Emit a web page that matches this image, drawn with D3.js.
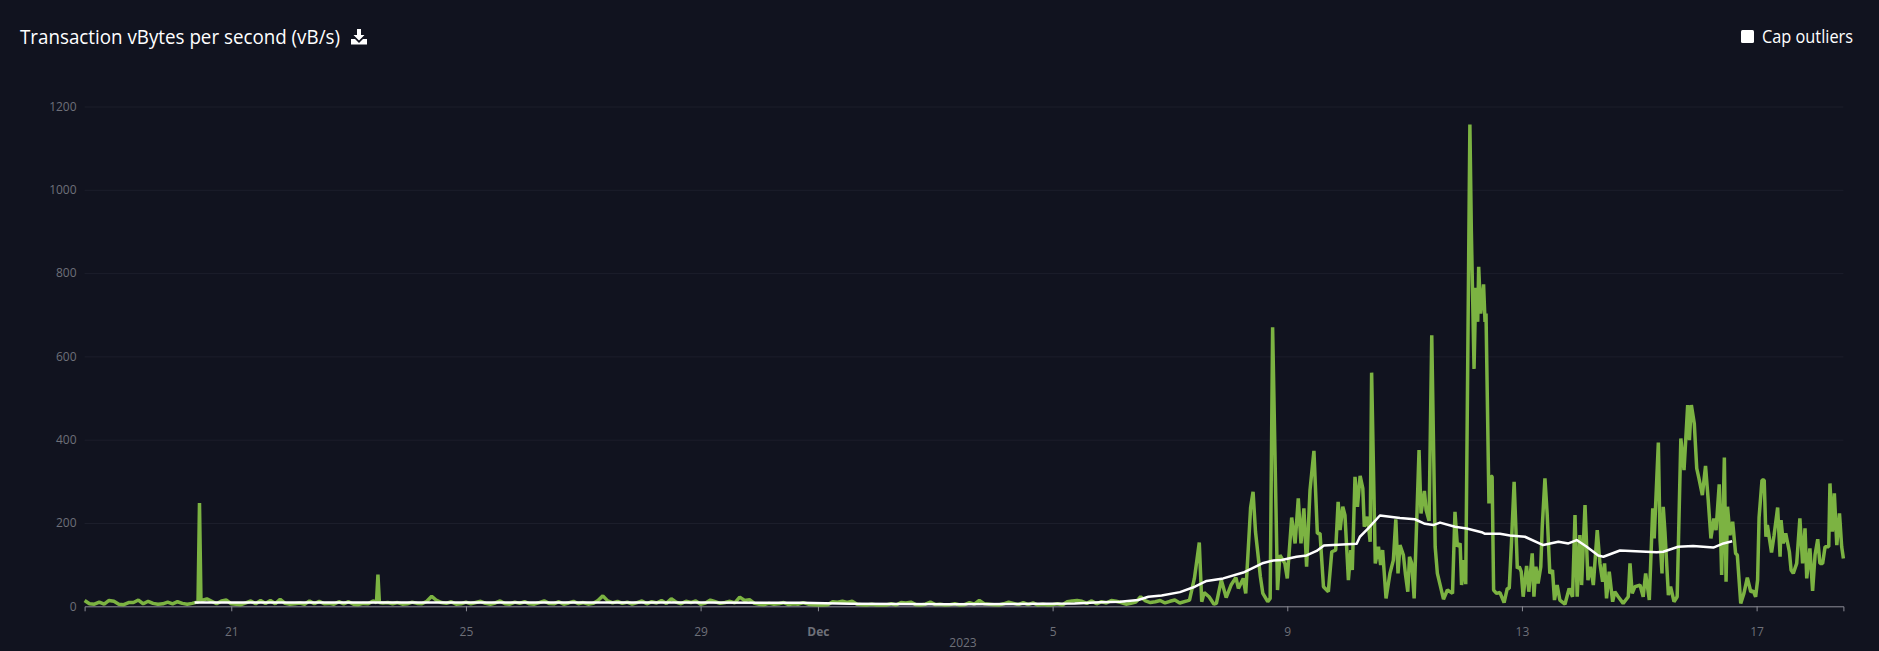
<!DOCTYPE html>
<html>
<head>
<meta charset="utf-8">
<script src="https://cdn.jsdelivr.net/npm/d3@7"></script>
<style>
	html, body { margin: 0; padding: 0; background: #11131f; overflow: hidden; }
	svg { display: block; }
	text { font-family: "Open Sans", "Noto Sans", sans-serif; }
</style>
</head>
<body>
<svg id="svg"></svg>
<script>
var width = 1879, height = 651;
var margin = {top: 106.5, bottom: 606.3, right: 1843.4, left: 84.6};

var yTicks = [0, 200, 400, 600, 800, 1000, 1200];
var tickDates = [[10, 21], [10, 25], [10, 29], [11, 1], [11, 5], [11, 9], [11, 13], [11, 17]];
var tickLabels = ["21", "25", "29", "Dec", "5", "9", "13", "17"];

// two-hourly readings from Nov 18 12:00 to Dec 7 02:00, one row a day
var quietValues = [
	14,6,5,10,5,14,12,5,4,9,9,15,
	6,12,7,5,6,10,6,11,7,5,7,10,
	14,18,12,6,13,15,6,5,4,8,13,6,
	14,7,14,6,17,7,5,6,8,5,13,6,
	12,6,7,5,11,6,11,5,4,7,6,13,
	76,8,9,6,9,5,6,10,7,6,12,24,
	14,9,7,11,5,6,10,6,9,12,7,5,
	8,13,6,5,10,7,11,6,5,9,13,7,
	6,11,5,8,12,6,9,5,7,14,25,13,
	8,12,7,10,5,9,13,6,11,8,14,7,
	18,10,6,12,9,13,5,8,15,11,7,9,
	12,8,22,14,16,7,5,4,7,5,6,9,
	4,6,5,9,5,4,3,3,4,11,10,12,
	9,12,5,4,3,5,3,4,3,6,3,9,
	8,10,4,3,5,10,4,5,3,4,6,3,
	4,9,5,14,6,5,4,3,6,10,7,4,
	9,4,8,3,5,3,4,6,3,11,13,14,
	12,7,13,6,11,8,14,12,9,5,7,10,
	23,13,9,11,14,8,12,15
];
// spikes are narrower than the two hour spacing, so they get extra readings
var spikeHours = [46.4, 47, 47.6, 119.4, 120.6];
var spikeValues = [10, 248, 14, 9, 9];

// after Dec 7 the line is read peak by peak. hours are counted from Dec 9 00:00
var busyHours = [
	-44,-41,-40,-38,-36,-35,-34,-32,-30,-29,-27,-25,-23,-21,-20,-18,-17,-15,-14,-13,-11,-10,-8,-7,-6,-4,-3,-1,
	0,1.8,3.2,4.5,5.6,6.8,7.9,9.3,10.9,12.3,13.4,14.8,16.8,18.2,19.8,20.8,21.6,22.7,23.6,25,26,26.6,27.7,28.7,29.8,30.9,31.5,32.8,33.9,34.5,
	36,37.3,38.2,39,40.4,42,43.4,44.4,45.3,46.1,47.5,48.3,49.3,50,50.9,51.9,53.9,54.7,56.1,56.8,58,59.1,60.5,61.4,63.9,65.5,67.6,68.6,69.6,70.7,
	71.3,72.2,73,74.7,75.3,76.4,77.1,77.9,78.3,79.1,80.3,80.9,81.3,82.5,83.3,83.8,84.4,85.6,87,88.7,90,90.8,91.7,92.8,93.8,94.1,94.9,95.7,96.5,97.9,98.8,
	100.2,100.9,101.7,102.6,103.7,104.3,105.4,106.3,107.4,108.5,109.3,110.4,111.5,113.6,115.3,116.7,117.7,118.6,119.7,120.4,121.8,123,124.1,125.2,126.8,127.9,
	129,129.8,130.6,131.7,133.1,134,135.4,137.4,139.5,140.2,141.1,142.2,144.3,145.6,146.6,148.1,149.5,150.1,151.8,152.5,153.3,153.8,154.5,155.9,156.8,158.2,159.5,
	161,162.3,163.8,164.5,165.3,166.5,167.5,168.4,169.8,171.1,172.2,173.3,174.5,175.4,176.7,177.7,178.8,179.5,180.1,181.1,
	182.2,183.4,184.1,185.5,186.8,188.2,189.6,190.6,191.6,192.4,193,194.2,195.1,195.8,196.4,198.1,199.1,200.6,201.6,202,202.9,203.9,205.4,206.1,207,208.4,209.7,210.8,211.8,212.5,213.8,214.9,215.9,217,217.9,219,220,221.5,222,223,223.8,224.8,225.9,226.8,227.5
];
var busyValues = [
	8,13,15,67,153,11,33,23,5,7,63,21,51,69,43,67,31,237,275,179,71,31,11,19,670,39,123,103,
	67,213,151,259,151,235,95,279,373,175,175,47,35,131,135,251,183,239,219,63,135,87,311,239,313,283,191,215,155,561,
	103,143,99,135,19,79,111,209,79,147,123,79,35,119,103,19,375,223,277,231,205,651,143,79,17,39,31,227,143,151,
	51,111,53,1157,900,570,765,683,815,703,773,683,703,247,313,311,39,31,33,9,43,43,151,299,143,91,95,83,23,97,35,
	127,23,95,55,95,191,307,223,79,87,15,51,15,5,43,23,219,23,171,51,243,63,95,51,183,103,
	59,103,19,83,11,35,23,7,23,103,31,47,51,23,79,15,235,163,393,159,79,239,179,27,47,11,23,
	403,327,483,399,483,439,331,307,267,337,255,163,211,183,293,75,357,59,239,171,
	203,127,123,7,31,69,35,37,23,63,213,303,303,167,195,129,169,237,119,207,151,175,131,87,79,103,211,103,187,67,139,37,123,161,103,103,143,143,295,179,271,147,223,143,115
];

// white moving average, hours counted from Dec 9 00:00 again
var avgHours = [
	-447,-363,-281,-240,-199,-179,-138,-101,-87,-76.6,-68.4,-61,-56.8,-51.4,-43.9,-37.8,-33,-26.2,-18,-9.8,-5.7,-2.3,
	3.8,7.9,12,15,28.4,29.7,33.1,37.9,46.1,52.2,56.3,59.7,62.5,68.6,73.4,79.5,80.9,87,91.1,97.2,104.7,110.9,115,118.4,122.5,127.2,129.3,136.1,151.1,153.8,159.9,166,174.3,178.4,182
];
var avgValues = [
	9,9,9,9,8.5,6,5,6,7,10,11,15,23,26,34,47,61,67,81,104,110,111,
	119,122,133,146,150,167,187,218,212,209,198,195,201,191,187,178,174,174,170,167,147,155,151,159,143,122,119,134,130,131,143,145,141,151,156
];

var svg = d3.select("#svg")
	.attr("width", width)
	.attr("height", height);

var start = Date.UTC(2023, 10, 18, 12);
var dec9 = Date.UTC(2023, 11, 9);
var hour = 3600000;

var x = d3.scaleUtc()
	.domain([start, dec9 + 227.5 * hour])
	.range([margin.left, margin.right]);

var y = d3.scaleLinear()
	.domain([0, 1200])
	.range([margin.bottom, margin.top]);

var series = quietValues.map(function(d, i) { return {t: start + i * 2 * hour, v: d}; });
spikeValues.forEach(function(d, i) { series.push({t: start + spikeHours[i] * hour, v: d}); });
series.sort(function(a, b) { return a.t - b.t; });
busyValues.forEach(function(d, i) { series.push({t: dec9 + busyHours[i] * hour, v: d}); });

var average = avgValues.map(function(d, i) { return {t: dec9 + avgHours[i] * hour, v: d}; });

var line = d3.line()
	.x(function(d) { return x(d.t); })
	.y(function(d) { return y(d.v); });

// y axis and grid
var yAxis = d3.axisLeft(y)
	.tickValues(yTicks)
	.tickSize(margin.left - margin.right)
	.tickPadding(8)
	.tickFormat(function(d) { return d; });

var gy = svg.append("g")
	.attr("transform", "translate(" + margin.left + ",0)")
	.call(yAxis);
gy.select(".domain").remove();
gy.selectAll("line").attr("stroke", "#1c1e2b").attr("stroke-width", 1);
gy.selectAll("text").attr("fill", "#6e7079").attr("font-size", 12);

// x axis
var tickTimes = tickDates.map(function(d) { return Date.UTC(2023, d[0], d[1]); });
var xAxis = d3.axisBottom(x)
	.tickValues(tickTimes)
	.tickSizeOuter(0)
	.tickSize(5)
	.tickPadding(16)
	.tickFormat(function(d, i) { return tickLabels[i]; });

var gx = svg.append("g")
	.attr("transform", "translate(0," + margin.bottom + ")")
	.call(xAxis);
gx.select(".domain").attr("stroke", "#8a8b94").attr("stroke-width", 1);
gx.selectAll("line").attr("stroke", "#8a8b94");
gx.selectAll("text")
	.attr("fill", "#6e7079")
	.attr("font-size", 12)
	.attr("font-weight", function(d, i) { return tickLabels[i] == "Dec" ? "bold" : "normal"; });

svg.append("text")
	.attr("x", 963)
	.attr("y", 647)
	.attr("text-anchor", "middle")
	.attr("fill", "#6e7079")
	.attr("font-size", 12)
	.text("2023");

svg.append("path")
	.datum(series)
	.attr("d", line)
	.attr("fill", "none")
	.attr("stroke", "#7cb342")
	.attr("stroke-width", 3.5)
	.attr("stroke-linejoin", "bevel");

svg.append("path")
	.datum(average)
	.attr("d", line)
	.attr("fill", "none")
	.attr("stroke", "#ffffff")
	.attr("stroke-width", 2.5)
	.attr("stroke-linejoin", "round");

// header
svg.append("text")
	.attr("x", 20)
	.attr("y", 44)
	.attr("fill", "#ffffff")
	.attr("font-size", 20)
	.attr("textLength", 320)
	.attr("lengthAdjust", "spacingAndGlyphs")
	.text("Transaction vBytes per second (vB/s)");

var icon = svg.append("g")
	.attr("transform", "translate(351,28)")
	.attr("fill", "#ffffff");
icon.append("path").attr("d", "M6 1h4v6h3.5L8 12.5 2.5 7H6z");
icon.append("path").attr("d", "M0 11h4l4 4 4-4h4v5.5H0z");

svg.append("rect")
	.attr("x", 1741)
	.attr("y", 30)
	.attr("width", 13)
	.attr("height", 13)
	.attr("rx", 1.5)
	.attr("fill", "#ffffff");

svg.append("text")
	.attr("x", 1762)
	.attr("y", 43)
	.attr("fill", "#ffffff")
	.attr("font-size", 18)
	.attr("textLength", 91)
	.attr("lengthAdjust", "spacingAndGlyphs")
	.text("Cap outliers");
</script>
</body>
</html>
